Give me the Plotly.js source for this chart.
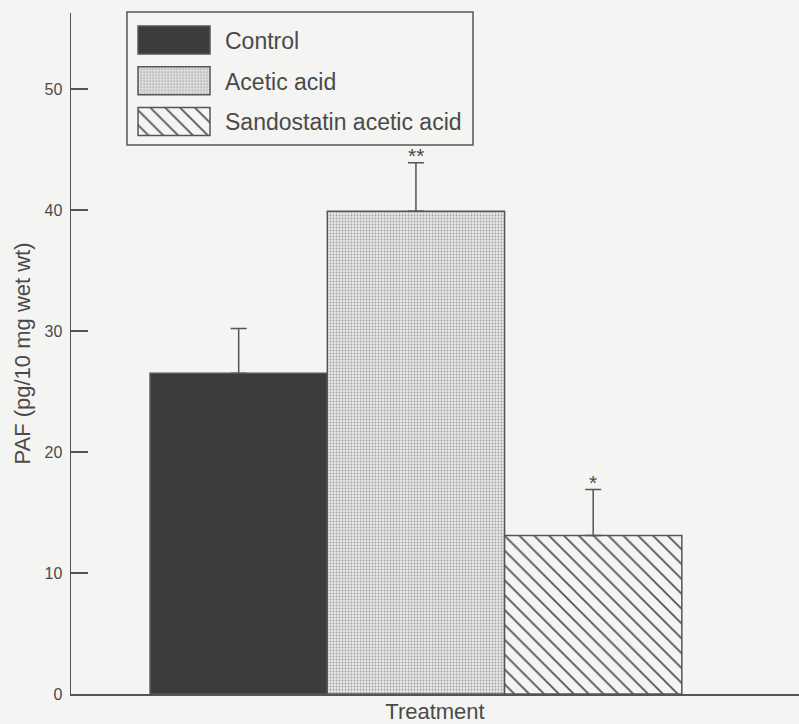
<!DOCTYPE html>
<html>
<head>
<meta charset="utf-8">
<script src="https://cdn.plot.ly/plotly-3.0.1.min.js"></script>
<style>html,body{margin:0;padding:0;background:#f4f4f2;}</style>
</head>
<body>
<div id="chart" style="width:799px;height:724px;"></div>
<script>
// ---- data ----
const categories = ["Control", "Acetic acid", "Sandostatin acetic acid"];
const meanPAF = [26.5, 39.9, 13.1];
const errUpper = [3.7, 4.0, 3.8];
const significance = ["", "**", "*"];
const yTicks = [0, 10, 20, 30, 40, 50];

// ---- styles ----
const fillColors = ["#3c3c3c", "#e2e2e2", "#f4f4f2"];
const patternShapes = ["", ".", "\\"];
const patternFg = ["#3c3c3c", "#a0a0a0", "#4f4f4f"];
const patternBg = ["#3c3c3c", "#e8e8e8", "#f4f4f2"];
const patternSize = [8, 3, 10.5];
const patternSolidity = [0.3, 0.3, 0.16];
const textColor = "#4a4a4a";
const lineColor = "#555555";
const fontFam = "Liberation Sans, Arial, Helvetica, sans-serif";

function markerStyle(i) {
  const m = {
    color: fillColors[i],
    line: {color: lineColor, width: 1.5}
  };
  if (patternShapes[i]) {
    m.pattern = {
      shape: patternShapes[i],
      fgcolor: patternFg[i],
      bgcolor: patternBg[i],
      size: patternSize[i],
      solidity: patternSolidity[i],
      fillmode: "replace"
    };
  }
  return m;
}

const traces = [];
categories.forEach((c, i) => {
  traces.push({
    type: "bar",
    name: c,
    x: [c],
    y: [meanPAF[i]],
    width: 1,
    marker: markerStyle(i),
    error_y: {
      type: "data",
      symmetric: false,
      array: [errUpper[i]],
      arrayminus: [0],
      color: lineColor,
      thickness: 1.5,
      width: 8
    },
    showlegend: false
  });
});
// legend swatches drawn as a small inset bar chart
categories.forEach((c, i) => {
  traces.push({
    type: "bar",
    orientation: "h",
    y: [c],
    x: [1],
    base: 0,
    width: 0.69,
    xaxis: "x2",
    yaxis: "y2",
    marker: markerStyle(i),
    showlegend: false,
    hoverinfo: "skip"
  });
});

const annotations = [];
categories.forEach((c, i) => {
  if (significance[i]) {
    annotations.push({
      x: c, y: meanPAF[i] + errUpper[i], xref: "x", yref: "y",
      text: significance[i], showarrow: false,
      yanchor: "bottom", yshift: -6,
      font: {family: fontFam, size: 21, color: textColor}
    });
  }
});
const legendTextY = [0.9589, 0.8987, 0.84];
categories.forEach((c, i) => {
  annotations.push({
    x: 0.2088, y: legendTextY[i], xref: "paper", yref: "paper",
    text: c, showarrow: false, xanchor: "left", yanchor: "middle",
    font: {family: fontFam, size: 23, color: textColor}
  });
});

const layout = {
  width: 799,
  height: 724,
  margin: {l: 71, r: 0, t: 13, b: 30},
  paper_bgcolor: "#f4f4f2",
  plot_bgcolor: "rgba(0,0,0,0)",
  font: {family: fontFam, color: textColor},
  barmode: "overlay",
  bargap: 0,
  xaxis: {
    type: "category",
    categoryarray: categories,
    range: [-0.946, 3.161],
    showline: true, linecolor: lineColor, linewidth: 1.5,
    showticklabels: false, ticks: "", showgrid: false, zeroline: false,
    title: {text: "Treatment", font: {family: fontFam, size: 22, color: textColor}, standoff: 15}
  },
  yaxis: {
    range: [0, 56.28],
    tickvals: yTicks,
    ticks: "inside", ticklen: 17, tickwidth: 1.5, tickcolor: lineColor,
    ticklabelstandoff: 4,
    showline: true, linecolor: lineColor, linewidth: 1.5,
    showgrid: false, zeroline: false,
    tickfont: {family: fontFam, size: 16, color: textColor},
    title: {text: "PAF (pg/10 mg wet wt)", font: {family: fontFam, size: 22, color: textColor}, standoff: 8}
  },
  xaxis2: {
    domain: [0.0901, 0.1929], range: [-0.02, 1.02], anchor: "y2",
    visible: false, fixedrange: true
  },
  yaxis2: {
    domain: [0.8107, 0.9903], anchor: "x2", type: "category",
    categoryarray: categories, autorange: "reversed",
    visible: false, fixedrange: true
  },
  shapes: [{
    type: "rect", xref: "paper", yref: "paper",
    x0: 0.0769, x1: 0.5522, y0: 0.806, y1: 1.0015,
    line: {color: lineColor, width: 1.5}, fillcolor: "#f4f4f2", layer: "below"
  }],
  annotations: annotations
};

Plotly.newPlot("chart", traces, layout, {displayModeBar: false, staticPlot: true});
</script>
</body>
</html>
